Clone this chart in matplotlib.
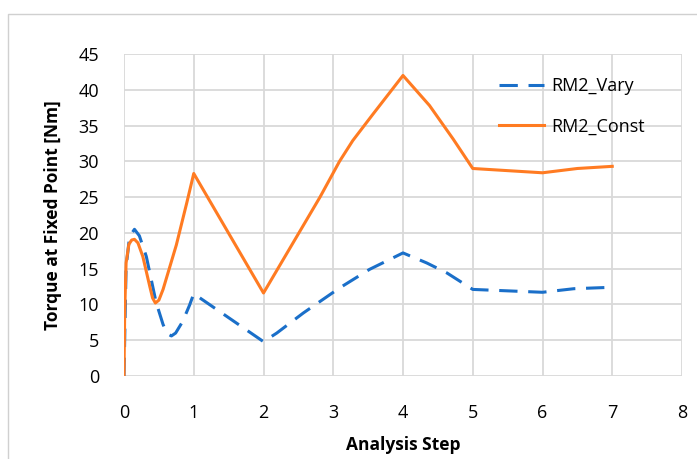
import matplotlib
matplotlib.use("Agg")
import matplotlib.pyplot as plt
from matplotlib.lines import Line2D

plt.rcParams['font.family'] = ['Open Sans', 'DejaVu Sans']

# values
vary_x = [0, 0.03, 0.08, 0.15, 0.22, 0.32, 0.46, 0.56, 0.62, 0.68, 0.74, 0.84, 0.94, 1.0,
          2.0, 2.19, 2.57, 3.09, 3.52, 4.0, 4.34, 4.63, 5.0, 5.5, 6.0, 6.45, 7.0]
vary_y = [0, 15.2, 19.5, 20.5, 19.6, 16.7, 10.3, 7.2, 5.9, 5.6, 6.0, 7.6, 9.9, 11.5,
          4.8, 6.0, 8.8, 12.3, 14.9, 17.2, 15.8, 14.4, 12.1, 11.9, 11.7, 12.2, 12.4]

const_x = [0, 0.01, 0.03, 0.07, 0.11, 0.15, 0.2, 0.27, 0.37, 0.41, 0.45, 0.5, 0.56, 0.75,
           0.9, 1.0, 2.0, 2.81, 3.09, 3.28, 3.57, 4.0, 4.38, 4.72, 5.0, 5.5, 6.0, 6.5, 7.0]
const_y = [0, 9.0, 15.8, 18.4, 19.0, 19.1, 18.6, 16.7, 12.5, 10.9, 10.2, 10.6, 12.1, 18.3,
           24.2, 28.3, 11.6, 25.0, 30.0, 32.9, 36.6, 42.0, 37.8, 33.1, 29.0, 28.7, 28.4, 29.0, 29.3]

x_ticks = [0, 1, 2, 3, 4, 5, 6, 7, 8]
y_ticks = [0, 5, 10, 15, 20, 25, 30, 35, 40, 45]

fig = plt.figure(figsize=(6.97, 4.59), dpi=100)
ax = fig.add_axes([124 / 697, 1 - 376 / 459, 558 / 697, 322 / 459])

# light frame around the chart (cut off at right and bottom)
fx = 8 / 697
fy = 1 - 14 / 459
fig.lines.append(Line2D([fx, fx, 1.0], [0, fy, fy], transform=fig.transFigure,
                        color='#d0d0d0', linewidth=1))

ax.plot(vary_x, vary_y, color='#1a6fc9', linewidth=2.2, dashes=(6, 3.5),
        label='RM2_Vary')
ax.plot(const_x, const_y, color='#ff7b22', linewidth=2.2, label='RM2_Const')

ax.set_xlim(0, 8)
ax.set_ylim(0, 45)
ax.set_xticks(x_ticks)
ax.set_yticks(y_ticks)
ax.grid(True, color='#d9d9d9', linewidth=1.3)
ax.set_axisbelow(True)
for s in ax.spines.values():
    s.set_visible(False)
ax.tick_params(length=0, labelsize=13)
ax.tick_params(axis='y', pad=18)
ax.tick_params(axis='x', pad=20)

ax.set_xlabel('Analysis Step', fontsize=12.5, fontweight='bold', labelpad=10)
ax.set_ylabel('Torque at Fixed Point [Nm]', fontsize=12.5, fontweight='bold', labelpad=12)

ax.legend(loc='upper left', bbox_to_anchor=(490 / 697, 1 - 68 / 459),
          bbox_transform=fig.transFigure, frameon=False, fontsize=13,
          handlelength=2.5, handletextpad=0.4, labelspacing=1.25, borderpad=0)

fig.savefig('out.png', dpi=100)
